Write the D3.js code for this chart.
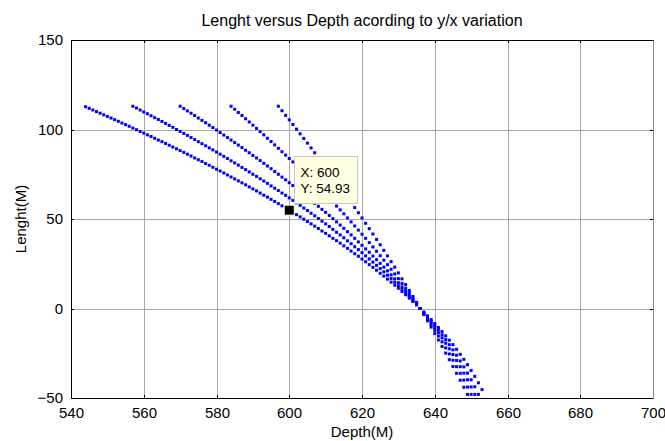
<!DOCTYPE html>
<html><head><meta charset="utf-8">
<script src="https://cdn.jsdelivr.net/npm/d3@7"></script>
<style>html,body{margin:0;padding:0;background:#fff}svg{display:block}</style>
</head><body><svg id="c" width="665" height="441"></svg>
<script>
const titleText = "Lenght versus Depth acording to y/x variation";
const xLabel = "Depth(M)";
const yLabel = "Lenght(M)";
const xTicks = [540,560,580,600,620,640,660,680,700];
const yTicks = [-50,0,50,100,150];

const depth1 = [544,545,546,547,548,549,550,551,552,553,
554,555,556,557,558,559,560,561,562,563,
564,565,566,567,568,569,570,571,572,573,
574,575,576,577,578,579,580,581,582,583,
584,585,586,587,588,589,590,591,592,593,
594,595,596,597,598,599,600,601,602,603,
604,605,606,607,608,609,610,611,612,613,
614,615,616,617,618,619,620,621,622,623,
624,625,626,627,628,629,630,631,632,633,
634,635,636,637,638,639,640,641,642,643,
644,645,646,647,648,649,650,651,652,653];
const len1 = [112.7,111.8,110.9,110.0,109.1,108.2,107.3,106.4,105.5,104.6,
103.6,102.7,101.8,100.8,99.9,98.9,98.0,97.0,96.1,95.1,
94.1,93.2,92.2,91.2,90.2,89.2,88.2,87.2,86.2,85.2,
84.1,83.1,82.1,81.0,80.0,78.9,77.8,76.8,75.7,74.6,
73.5,72.4,71.3,70.2,69.1,67.9,66.8,65.7,64.5,63.3,
62.2,61.0,59.8,58.6,57.4,56.2,54.93,53.7,52.4,51.2,
49.9,48.6,47.3,46.0,44.7,43.3,42.0,40.6,39.2,37.9,
36.5,35.0,33.6,32.1,30.6,29.2,27.6,26.1,24.5,23.0,
21.4,19.7,18.1,16.4,14.7,13.0,11.3,9.5,7.7,5.8,
3.9,2.0,0.0,-2.0,-4.1,-6.2,-8.4,-10.6,-12.9,-15.3,
-17.7,-20.2,-22.8,-25.6,-28.4,-31.4,-34.6,-37.9,-41.5,-45.3];

const depth2 = [557,558,559,560,561,562,563,564,565,566,
567,568,569,570,571,572,573,574,575,576,
577,578,579,580,581,582,583,584,585,586,
587,588,589,590,591,592,593,594,595,596,
597,598,599,600,601,602,603,604,605,606,
607,608,609,610,611,612,613,614,615,616,
617,618,619,620,621,622,623,624,625,626,
627,628,629,630,631,632,633,634,635,636,
637,638,639,640,641,642,643,644,645,646,
647,648,649,650,651,652];
const len2 = [113.0,112.0,110.9,109.8,108.8,107.7,106.6,105.6,104.5,103.4,
102.3,101.2,100.0,98.9,97.8,96.7,95.5,94.4,93.2,92.1,
90.9,89.7,88.6,87.4,86.2,85.0,83.8,82.5,81.3,80.1,
78.8,77.6,76.3,75.0,73.8,72.5,71.2,69.9,68.5,67.2,
65.9,64.5,63.2,61.8,60.4,59.0,57.6,56.1,54.7,53.2,
51.8,50.3,48.8,47.3,45.8,44.2,42.6,41.1,39.5,37.8,
36.2,34.5,32.9,31.2,29.4,27.7,25.9,24.1,22.3,20.5,
18.6,16.7,14.7,12.7,10.7,8.7,6.6,4.4,2.2,0.0,
-2.3,-4.6,-7.0,-9.5,-12.0,-14.7,-17.4,-20.2,-23.1,-26.1,
-29.3,-32.6,-36.1,-39.8,-43.7,-48.0];

const depth3 = [570,571,572,573,574,575,576,577,578,579,
580,581,582,583,584,585,586,587,588,589,
590,591,592,593,594,595,596,597,598,599,
600,601,602,603,604,605,606,607,608,609,
610,611,612,613,614,615,616,617,618,619,
620,621,622,623,624,625,626,627,628,629,
630,631,632,633,634,635,636,637,638,639,
640,641,642,643,644,645,646,647,648,649,
650,651];
const len3 = [113.0,111.7,110.4,109.1,107.8,106.4,105.1,103.8,102.4,101.1,
99.7,98.3,96.9,95.5,94.1,92.7,91.3,89.9,88.4,87.0,
85.5,84.1,82.6,81.1,79.6,78.1,76.5,75.0,73.4,71.9,
70.3,68.7,67.1,65.5,63.8,62.2,60.5,58.8,57.1,55.4,
53.7,52.0,50.2,48.4,46.6,44.8,42.9,41.1,39.2,37.2,
35.3,33.3,31.4,29.3,27.3,25.2,23.1,21.0,18.8,16.6,
14.4,12.1,9.8,7.4,5.0,2.5,0.0,-2.6,-5.2,-7.9,
-10.7,-13.5,-16.4,-19.4,-22.5,-25.7,-29.0,-32.5,-36.1,-39.8,
-43.8,-48.0];

const depth4 = [584,585,586,587,588,589,590,591,592,593,
594,595,596,597,598,599,600,601,602,603,
604,605,606,607,608,609,610,611,612,613,
614,615,616,617,618,619,620,621,622,623,
624,625,626,627,628,629,630,631,632,633,
634,635,636,637,638,639,640,641,642,643,
644,645,646,647,648,649,650];
const len4 = [113.0,111.3,109.5,107.8,106.0,104.2,102.4,100.6,98.8,97.0,
95.1,93.3,91.4,89.5,87.6,85.7,83.8,81.9,79.9,77.9,
75.9,73.9,71.9,69.9,67.8,65.7,63.6,61.5,59.4,57.2,
55.1,52.9,50.6,48.4,46.1,43.8,41.5,39.2,36.8,34.4,
32.0,29.5,27.0,24.5,21.9,19.3,16.7,14.0,11.3,8.6,
5.8,2.9,0.0,-3.0,-6.0,-9.0,-12.2,-15.4,-18.6,-22.0,
-25.4,-28.9,-32.5,-36.2,-40.0,-43.9,-48.0];

const depth5 = [597,598,599,600,601,602,603,604,605,606,
607,608,609,610,611,612,613,614,615,616,
617,618,619,620,621,622,623,624,625,626,
627,628,629,630,631,632,633,634,635,636,
637,638,639,640,641,642,643,644,645,646,
647,648,649];
const len5 = [113.0,110.5,107.9,105.4,102.8,100.2,97.6,95.0,92.4,89.7,
87.0,84.3,81.6,78.9,76.2,73.4,70.6,67.8,65.0,62.2,
59.3,56.4,53.5,50.6,47.6,44.6,41.6,38.6,35.6,32.5,
29.4,26.2,23.1,19.9,16.6,13.4,10.1,6.7,3.4,0.0,
-3.4,-6.9,-10.4,-14.0,-17.6,-21.2,-24.9,-28.6,-32.4,-36.2,
-40.1,-44.0,-48.0];

const tipDepth = 600;
const tipLength = 54.93;

const seriesList = [[depth1,len1],[depth2,len2],[depth3,len3],[depth4,len4],[depth5,len5]];

const W = 665, H = 441;
const M = {l:71, r:653, t:40, b:398};
const FONT = "'Liberation Sans', Arial, Helvetica, sans-serif";

const svg = d3.select('#c');
svg.append('rect').attr('width',W).attr('height',H).attr('fill','#fff');

const x = d3.scaleLinear().domain([540,700]).range([M.l,M.r]);
const y = d3.scaleLinear().domain([-50,150]).range([M.b,M.t]);
const ax = x.copy().interpolate(d3.interpolateRound);
const ay = y.copy().interpolate(d3.interpolateRound);

// plot background
svg.append('rect').attr('x',M.l).attr('y',M.t).attr('width',M.r-M.l).attr('height',M.b-M.t).attr('fill','#fff');

// grid
const grid = svg.append('g').attr('stroke','#a8a8a8').attr('stroke-width',1).attr('fill','none');
grid.selectAll('.gx').data(xTicks.slice(1,-1)).join('line')
  .attr('x1',d=>ax(d)+0.5).attr('x2',d=>ax(d)+0.5).attr('y1',M.t).attr('y2',M.b);
grid.selectAll('.gy').data(yTicks.slice(1,-1)).join('line')
  .attr('y1',d=>ay(d)+0.5).attr('y2',d=>ay(d)+0.5).attr('x1',M.l).attr('x2',M.r);

// data
const pts = [];
seriesList.forEach(([dx,ly]) => dx.forEach((d,i)=>pts.push([d,ly[i]])));
svg.append('g').attr('fill','#0000ff').selectAll('rect').data(pts).join('rect')
  .attr('x',d=>x(d[0])-1.5).attr('y',d=>y(d[1])-1.5).attr('width',3).attr('height',3);

// axes
function styleAxis(g){
  g.selectAll('text').attr('font-family',FONT).attr('font-size',15).attr('fill','#000');
  g.selectAll('line').attr('stroke','#000');
  g.attr('font-family',FONT);
}
svg.append('g').attr('transform',`translate(0,${M.b})`)
  .call(d3.axisBottom(ax).tickValues(xTicks).tickSizeInner(-3).tickSizeOuter(0).tickPadding(9).tickFormat(d3.format('d')))
  .call(styleAxis).call(g=>g.select('.domain').attr('stroke','#000'));
svg.append('g').attr('transform',`translate(0,${M.t})`)
  .call(d3.axisTop(ax).tickValues(xTicks).tickSizeInner(-3).tickSizeOuter(0).tickFormat(''))
  .call(styleAxis).call(g=>g.select('.domain').attr('stroke','#000'));
svg.append('g').attr('transform',`translate(${M.l},0)`)
  .call(d3.axisLeft(ay).tickValues(yTicks).tickSizeInner(-3).tickSizeOuter(0).tickPadding(8).tickFormat(d3.format('d')))
  .call(styleAxis).call(g=>g.select('.domain').attr('stroke','#000'));
svg.append('g').attr('transform',`translate(${M.r},0)`)
  .call(d3.axisRight(ay).tickValues(yTicks).tickSizeInner(-3).tickSizeOuter(0).tickFormat(''))
  .call(styleAxis).call(g=>g.select('.domain').attr('stroke','#888'));

// labels
svg.append('text').attr('x',(M.l+M.r)/2).attr('y',26).attr('text-anchor','middle')
  .attr('font-family',FONT).attr('font-size',16).attr('fill','#000').text(titleText);
svg.append('text').attr('x',(M.l+M.r)/2).attr('y',437).attr('text-anchor','middle')
  .attr('font-family',FONT).attr('font-size',15).attr('fill','#000').text(xLabel);
svg.append('text').attr('transform',`translate(26,${(M.t+M.b)/2}) rotate(-90)`).attr('text-anchor','middle')
  .attr('font-family',FONT).attr('font-size',15).attr('fill','#000').text(yLabel);

// data tip
const px = x(tipDepth), py = y(tipLength);
const tip = svg.append('g');
tip.append('rect').attr('x',px-5).attr('y',py-5).attr('width',10).attr('height',10)
  .attr('fill','#000').attr('stroke','#ffffe0').attr('stroke-width',1);
const bx = Math.round(px+5), by = Math.round(py-54);
tip.append('rect').attr('x',bx+0.5).attr('y',by+0.5).attr('width',63).attr('height',47)
  .attr('fill','#ffffe1').attr('stroke','#c8c8c0');
tip.append('text').attr('x',bx+6.5).attr('y',by+21).attr('font-family',FONT).attr('font-size',13.5).attr('fill','#000')
  .text('X: ' + tipDepth);
tip.append('text').attr('x',bx+6.5).attr('y',by+37).attr('font-family',FONT).attr('font-size',13.5).attr('fill','#000')
  .text('Y: ' + tipLength);
</script></body></html>
